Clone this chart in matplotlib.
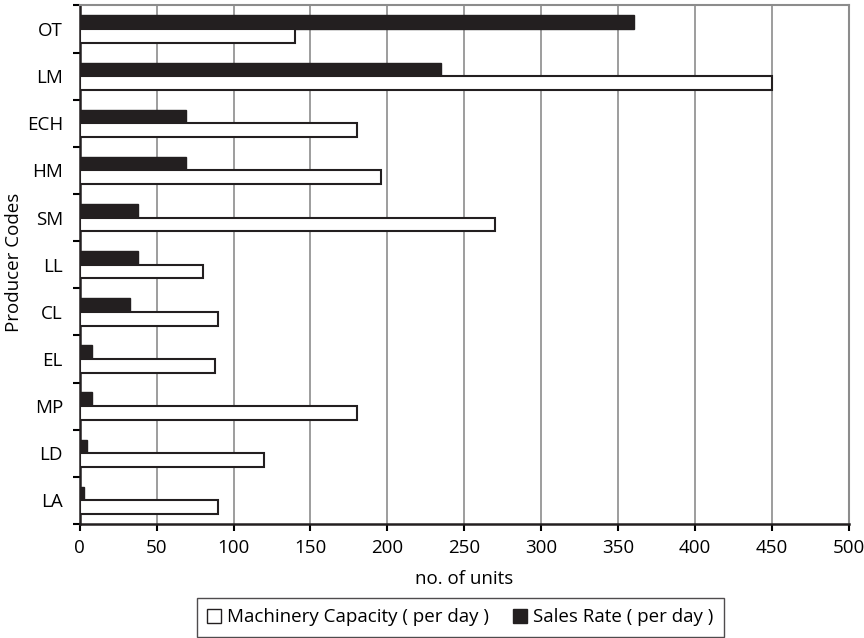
import numpy as np
import matplotlib.pyplot as plt
from matplotlib.patches import Patch

# Datos (de arriba hacia abajo)
codigos = ['OT', 'LM', 'ECH', 'HM', 'SM', 'LL', 'CL', 'EL', 'MP', 'LD', 'LA']
capacidad = [140, 450, 180, 196, 270, 80, 90, 88, 180, 120, 90]
ventas = [360, 235, 69, 69, 38, 38, 33, 8, 8, 5, 3]

plt.rcParams['font.family'] = ['Open Sans', 'DejaVu Sans']

fig = plt.figure(figsize=(8.64, 6.38), dpi=100)
ax = fig.add_axes([0.0922, 0.1787, 0.8904, 0.8127])

n = len(codigos)
y = np.arange(n)
alto = 0.29

ax.barh(y - alto / 2, ventas, height=alto, color='#231f20',
        edgecolor='#231f20', linewidth=1, zorder=3)
ax.barh(y + alto / 2, capacidad, height=alto, color='white',
        edgecolor='#231f20', linewidth=1.5, zorder=3)

ax.set_xlim(0, 500)
ax.set_ylim(n - 0.5, -0.5)
ax.set_xticks(np.arange(0, 501, 50))
ax.grid(axis='x', color='#8c8c8c', linewidth=1.2, zorder=0)

# ticks del eje y en los limites de categoria
ax.set_yticks(y)
ax.set_yticklabels(codigos)
ax.set_yticks(np.arange(-0.5, n, 1), minor=True)
ax.tick_params(axis='y', which='major', length=0, pad=12, labelsize=13.5)
ax.tick_params(axis='y', which='minor', length=5, width=1.5, direction='out')
ax.tick_params(axis='x', length=5, width=1.5, pad=6, labelsize=13.5)

for lado in ['left', 'bottom']:
    ax.spines[lado].set_color('#231f20')
    ax.spines[lado].set_linewidth(1.8)
for lado in ['top', 'right']:
    ax.spines[lado].set_color('#8c8c8c')
    ax.spines[lado].set_linewidth(1.5)

ax.set_xlabel('no. of units', fontsize=13.5, labelpad=9)
ax.set_ylabel('Producer Codes', fontsize=13.5, va='center')
ax.yaxis.set_label_coords(14 / 864, 1 - 262 / 638, transform=fig.transFigure)

manejadores = [
    Patch(facecolor='white', edgecolor='#231f20', linewidth=1,
          label='Machinery Capacity ( per day )'),
    Patch(facecolor='#231f20', edgecolor='#231f20',
          label='Sales Rate ( per day )'),
]
leg = fig.legend(handles=manejadores, loc='upper left',
                 bbox_to_anchor=(197 / 864, 1 - 598 / 638), ncol=2,
                 fontsize=13.5, frameon=True, fancybox=False,
                 handlelength=0.75, handleheight=0.75, handletextpad=0.3,
                 columnspacing=1.3, borderpad=0.55, borderaxespad=0)
leg.get_frame().set_edgecolor('#231f20')
leg.get_frame().set_linewidth(1)

fig.savefig('out.png', dpi=100)
